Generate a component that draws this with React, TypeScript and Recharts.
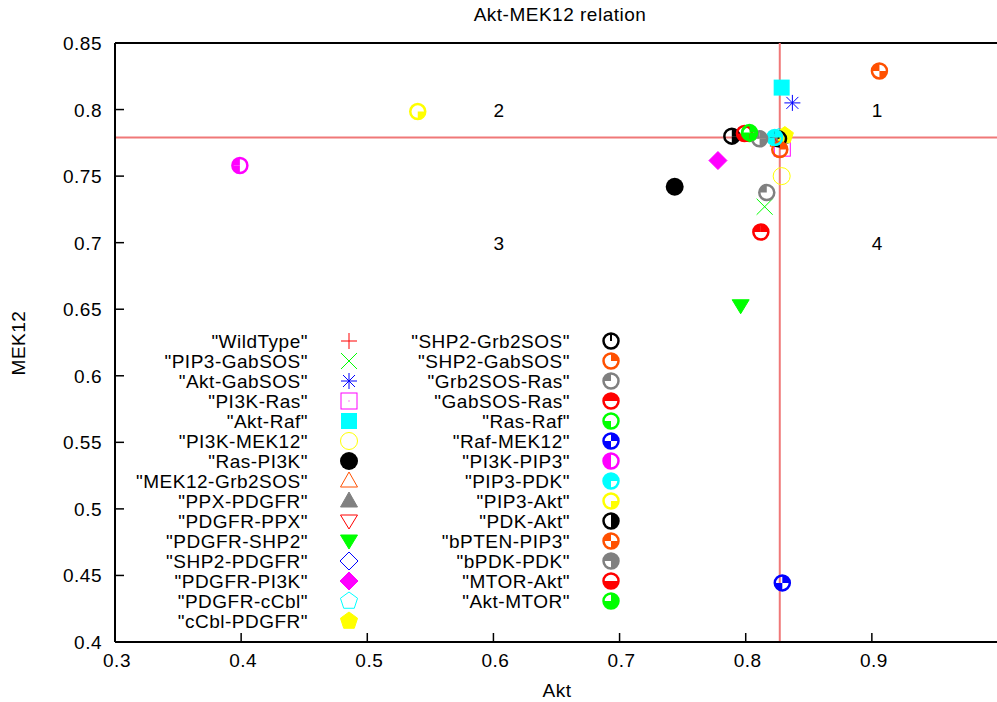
import React from 'react';
import { ScatterChart, Scatter, XAxis, YAxis, ReferenceLine } from 'recharts';

// mutants, one point each (Akt, MEK12)
const seriesNames = [
  'WildType', 'PIP3-GabSOS', 'Akt-GabSOS', 'PI3K-Ras', 'Akt-Raf', 'PI3K-MEK12', 'Ras-PI3K',
  'MEK12-Grb2SOS', 'PPX-PDGFR', 'PDGFR-PPX', 'PDGFR-SHP2', 'SHP2-PDGFR', 'PDGFR-PI3K',
  'PDGFR-cCbl', 'cCbl-PDGFR', 'SHP2-Grb2SOS', 'SHP2-GabSOS', 'Grb2SOS-Ras', 'GabSOS-Ras',
  'Ras-Raf', 'Raf-MEK12', 'PI3K-PIP3', 'PIP3-PDK', 'PIP3-Akt', 'PDK-Akt', 'bPTEN-PIP3',
  'bPDK-PDK', 'MTOR-Akt', 'Akt-MTOR',
];
const aktValues = [
  0.827, 0.815, 0.837, 0.829, 0.8285, 0.8285, 0.7437,
  0.826, 0.827, 0.827, 0.796, 0.827, 0.778,
  0.826, 0.831, 0.826, 0.827, 0.8167, 0.812,
  0.803, 0.829, 0.399, 0.823, 0.54, 0.789, 0.906,
  0.811, 0.799, 0.803,
];
const mek12Values = [
  0.779, 0.727, 0.805, 0.771, 0.8165, 0.75, 0.742,
  0.777, 0.779, 0.778, 0.6526, 0.778, 0.7617,
  0.779, 0.7805, 0.778, 0.77, 0.7376, 0.708,
  0.782, 0.4444, 0.758, 0.779, 0.7985, 0.78, 0.829,
  0.778, 0.782, 0.7827,
];

const quadrantNames = ['1', '2', '3', '4'];
const quadrantX = [0.9, 0.6, 0.6, 0.9];
const quadrantY = [0.8, 0.8, 0.7, 0.7];

const xTicks = [0.3, 0.4, 0.5, 0.6, 0.7, 0.8, 0.9];
const yTicks = [0.4, 0.45, 0.5, 0.55, 0.6, 0.65, 0.7, 0.75, 0.8, 0.85];

// gnuplot-ish styles
const palette = ['#ff0000', '#00ff00', '#0000ff', '#ff00ff', '#00ffff', '#ffff00', '#000000', '#ff5000', '#808080'];
const markerKinds = [
  'plus', 'cross', 'star', 'square', 'squareFill', 'circle', 'circleFill',
  'triUp', 'triUpFill', 'triDown', 'triDownFill', 'diamond', 'diamondFill', 'pent', 'pentFill',
];

const FONT = '"Liberation Sans", Arial, sans-serif';
const fmt = (v: number) => String(Number(v.toFixed(2)));

function marker(i: number, cx: number, cy: number) {
  const c = palette[i % palette.length];
  const kind = i < markerKinds.length ? markerKinds[i] : 'quad';
  const s = 8;
  switch (kind) {
    case 'plus':
      return <path d={`M${cx - s},${cy}H${cx + s}M${cx},${cy - s}V${cy + s}`} stroke={c} strokeWidth={1} />;
    case 'cross':
      return <path d={`M${cx - s},${cy - s}L${cx + s},${cy + s}M${cx - s},${cy + s}L${cx + s},${cy - s}`} stroke={c} strokeWidth={1} />;
    case 'star':
      return (
        <path
          d={`M${cx - s},${cy}H${cx + s}M${cx},${cy - s}V${cy + s}M${cx - s + 2},${cy - s + 2}L${cx + s - 2},${cy + s - 2}M${cx - s + 2},${cy + s - 2}L${cx + s - 2},${cy - s + 2}`}
          stroke={c}
          strokeWidth={1}
        />
      );
    case 'square':
      return (
        <g>
          <rect x={cx - s} y={cy - s} width={2 * s} height={2 * s} fill="none" stroke={c} strokeWidth={1} />
          <rect x={cx - 0.5} y={cy - 0.5} width={1} height={1} fill={c} />
        </g>
      );
    case 'squareFill':
      return <rect x={cx - s} y={cy - s} width={2 * s} height={2 * s} fill={c} />;
    case 'circle':
      return <circle cx={cx} cy={cy} r={8.5} fill="none" stroke={c} strokeWidth={1} />;
    case 'circleFill':
      return <circle cx={cx} cy={cy} r={9} fill={c} />;
    case 'triUp':
    case 'triUpFill':
      return (
        <polygon
          points={`${cx},${cy - 9} ${cx + 8.5},${cy + 6} ${cx - 8.5},${cy + 6}`}
          fill={kind === 'triUpFill' ? c : 'none'}
          stroke={c}
          strokeWidth={1}
        />
      );
    case 'triDown':
    case 'triDownFill':
      return (
        <polygon
          points={`${cx - 8.5},${cy - 6} ${cx + 8.5},${cy - 6} ${cx},${cy + 8}`}
          fill={kind === 'triDownFill' ? c : 'none'}
          stroke={c}
          strokeWidth={1}
        />
      );
    case 'diamond':
    case 'diamondFill':
      return (
        <polygon
          points={`${cx},${cy - 9} ${cx + 9},${cy} ${cx},${cy + 9} ${cx - 9},${cy}`}
          fill={kind === 'diamondFill' ? c : 'none'}
          stroke={c}
          strokeWidth={1}
        />
      );
    case 'pent':
    case 'pentFill': {
      const pts = [0, 1, 2, 3, 4]
        .map((k) => {
          const a = -Math.PI / 2 + (k * 2 * Math.PI) / 5;
          return `${cx + 9 * Math.cos(a)},${cy + 9 * Math.sin(a)}`;
        })
        .join(' ');
      return <polygon points={pts} fill={kind === 'pentFill' ? c : 'none'} stroke={c} strokeWidth={1} />;
    }
    default: {
      // circle with filled quadrants, bit0 TR, bit1 TL, bit2 BL, bit3 BR
      const mask = i - markerKinds.length;
      const r = 7.5;
      const quads = [
        `M${cx},${cy}L${cx},${cy - r}A${r},${r} 0 0 1 ${cx + r},${cy}Z`,
        `M${cx},${cy}L${cx - r},${cy}A${r},${r} 0 0 1 ${cx},${cy - r}Z`,
        `M${cx},${cy}L${cx},${cy + r}A${r},${r} 0 0 1 ${cx - r},${cy}Z`,
        `M${cx},${cy}L${cx + r},${cy}A${r},${r} 0 0 1 ${cx},${cy + r}Z`,
      ];
      return (
        <g>
          {quads.map((d, k) => ((mask >> k) & 1 ? <path key={k} d={d} fill={c} /> : null))}
          {mask === 0 && <path d={`M${cx},${cy - r}V${cy}`} stroke={c} strokeWidth={2} />}
          <circle cx={cx} cy={cy} r={r} fill="none" stroke={c} strokeWidth={2.5} />
        </g>
      );
    }
  }
}

const XTick = (props: any) => {
  const { x, y, payload } = props;
  return (
    <g>
      <line x1={x} y1={y} x2={x} y2={y - 9} stroke="#000" strokeWidth={1.5} />
      <text x={x + 2} y={y + 25} textAnchor="middle" fontFamily={FONT} fontSize={19} letterSpacing={0.5} fill="#000">
        {fmt(payload.value)}
      </text>
    </g>
  );
};

const YTick = (props: any) => {
  const { x, y, payload } = props;
  return (
    <g>
      <line x1={x} y1={y} x2={x + 9} y2={y} stroke="#000" strokeWidth={1.5} />
      <text x={x - 13} y={y + 7} textAnchor="end" fontFamily={FONT} fontSize={19} letterSpacing={0.5} fill="#000">
        {fmt(payload.value)}
      </text>
    </g>
  );
};

export default function App() {
  const wtX = aktValues[0];
  const wtY = mek12Values[0];
  const labelData = quadrantNames.map((t, i) => ({ akt: quadrantX[i], mek: quadrantY[i], text: t }));

  return (
    <div style={{ position: 'fixed', left: 0, top: 0, width: 997, height: 702, overflow: 'hidden', background: '#fff' }}>
      <ScatterChart width={1010} height={702} margin={{ top: 43, right: 12, bottom: 30, left: 55 }}>
        <XAxis
          type="number"
          dataKey="akt"
          domain={[0.3, 1.0]}
          ticks={xTicks}
          allowDataOverflow
          height={30}
          tickSize={0}
          tickMargin={0}
          tick={<XTick />}
          axisLine={{ stroke: '#000', strokeWidth: 2 }}
          tickLine={false}
        />
        <YAxis
          type="number"
          dataKey="mek"
          domain={[0.4, 0.85]}
          ticks={yTicks}
          allowDataOverflow
          width={60}
          tickSize={0}
          tickMargin={0}
          tick={<YTick />}
          axisLine={{ stroke: '#000', strokeWidth: 2 }}
          tickLine={false}
        />
        <ReferenceLine y={0.85} stroke="#000" strokeWidth={2} ifOverflow="visible" />
        <ReferenceLine x={wtX} stroke="#f07878" strokeWidth={2} />
        <ReferenceLine y={wtY} stroke="#f07878" strokeWidth={2} />
        <Scatter
          data={labelData}
          isAnimationActive={false}
          shape={(p: any) => (
            <text x={p.cx} y={p.cy + 7} fontFamily={FONT} fontSize={19} fill="#000">
              {p.payload.text}
            </text>
          )}
        />
        {seriesNames.map((name, i) => (
          <Scatter
            key={name}
            name={name}
            data={[{ akt: aktValues[i], mek: mek12Values[i] }]}
            isAnimationActive={false}
            shape={(p: any) => marker(i, p.cx, p.cy)}
          />
        ))}
      </ScatterChart>
      <svg width={997} height={702} style={{ position: 'absolute', left: 0, top: 0, pointerEvents: 'none' }}>
        <text x={560} y={21} textAnchor="middle" fontFamily={FONT} fontSize={19} letterSpacing={0.5}>
          Akt-MEK12 relation
        </text>
        <text x={557} y={697} textAnchor="middle" fontFamily={FONT} fontSize={19} letterSpacing={0.5}>
          Akt
        </text>
        <text
          x={25}
          y={343}
          textAnchor="middle"
          fontFamily={FONT}
          fontSize={19}
          letterSpacing={0.5}
          transform="rotate(-90 25 343)"
        >
          MEK12
        </text>
        {seriesNames.map((name, i) => {
          const col = i < 15 ? 0 : 1;
          const row = col === 0 ? i : i - 15;
          const y = 341 + row * 20;
          const tx = col === 0 ? 308 : 570;
          const mx = col === 0 ? 349 : 611;
          return (
            <g key={name}>
              <text x={tx} y={y + 7} textAnchor="end" fontFamily={FONT} fontSize={19} letterSpacing={0.5}>
                {`"${name}"`}
              </text>
              {marker(i, mx, y)}
            </g>
          );
        })}
      </svg>
    </div>
  );
}
